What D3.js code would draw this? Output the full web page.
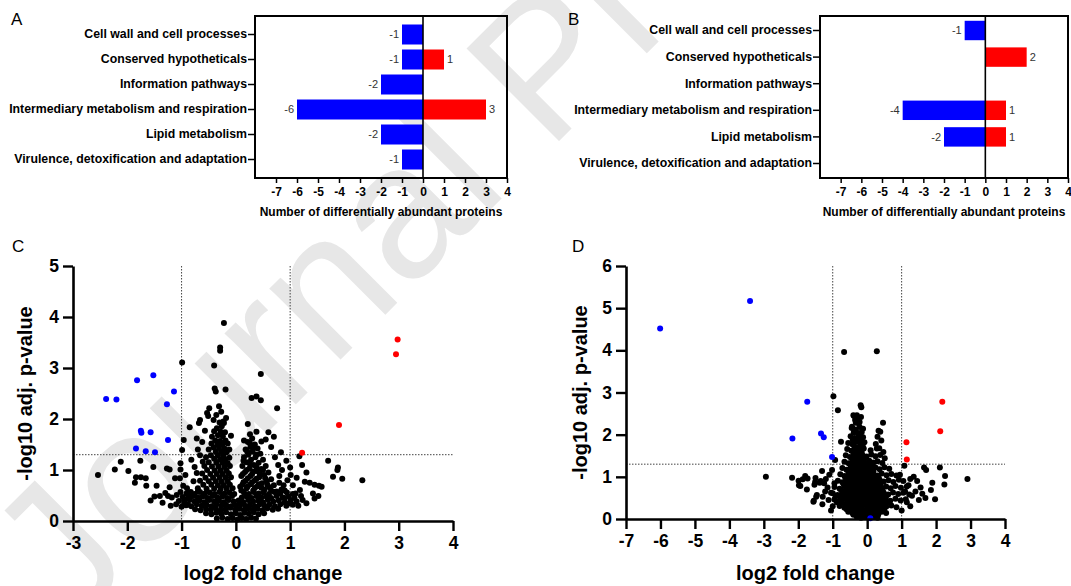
<!DOCTYPE html>
<html>
<head>
<meta charset="utf-8">
<script src="https://cdn.jsdelivr.net/npm/d3@7"></script>
<style>
  body { margin: 0; background: #fff; }
  svg { display: block; font-family: "Liberation Sans", Arial, sans-serif; }
</style>
</head>
<body>
<svg id="fig" width="1071" height="586"></svg>
<script>
// ---- data ----
var categories = [
  'Cell wall and cell processes',
  'Conserved hypotheticals',
  'Information pathways',
  'Intermediary metabolism and respiration',
  'Lipid metabolism',
  'Virulence, detoxification and adaptation'
];
var downA = [-1, -1, -2, -6, -2, -1];
var upA   = [0, 1, 0, 3, 0, 0];
var downB = [-1, 0, 0, -4, -2, 0];
var upB   = [0, 2, 0, 1, 1, 0];
var barTicks = [-7, -6, -5, -4, -3, -2, -1, 0, 1, 2, 3, 4];

var cTicksX = [-3, -2, -1, 0, 1, 2, 3, 4];
var cTicksY = [0, 1, 2, 3, 4, 5];
var dTicksX = [-7, -6, -5, -4, -3, -2, -1, 0, 1, 2, 3, 4];
var dTicksY = [0, 1, 2, 3, 4, 5, 6];
var foldCut = [-1, 1];
var pCut = 1.3;

// panel C: log2 fold change, -log10 adj. p
var cBlue = [[-2.39,2.39],[-2.20,2.38],[-1.82,2.76],[-1.52,2.86],[-1.14,2.54],[-1.27,2.29],
  [-1.75,1.77],[-1.74,1.73],[-1.57,1.74],[-1.25,1.59],[-1.84,1.42],[-1.66,1.37],[-1.49,1.35]];
var cRed = [[2.98,3.56],[2.95,3.27],[1.90,1.88],[1.22,1.34]];
var cBlack = [
  [-0.22,3.88],[-0.29,3.40],[-0.29,3.34],[-0.99,3.11],[-0.40,3.05],[0.46,2.88],
  [-0.39,2.60],[-0.37,2.54],[-0.19,2.58],[0.29,2.41],[0.38,2.44],[0.46,2.37],
  [0.76,2.21],[-0.31,2.25],[-0.49,2.21],[-0.53,2.12],[-0.51,2.06],[0.22,1.90],
  [-0.66,1.98],[-0.68,1.92],[-0.85,1.84],[0.60,1.74],[0.70,1.65],[0.47,1.56],
  [-0.96,1.59],[-0.99,1.39],[-0.23,1.95],[-0.09,1.67],[-0.57,1.77],[-0.61,1.16],[-0.66,1.29],
  [-0.36,2.08],[-0.27,2.14],[-0.41,1.98],[-0.18,2.02],
  [-2.54,0.90],[-2.23,1.01],[-2.12,1.16],[-1.98,0.98],[-1.84,0.86],[-1.86,0.75],
  [-1.76,1.18],[-1.75,0.86],[-1.66,0.84],[-1.65,0.69],[-1.52,1.06],[-1.46,0.69],
  [-1.40,0.49],[-1.50,0.48],[-1.57,0.40],[-1.27,1.03],[-1.22,1.01],[-1.12,0.84],
  [-1.22,0.66],[-1.25,0.49],[-1.18,0.46],[-1.09,0.51],[-1.02,1.01],[-1.02,1.13],
  [-1.03,0.84],[-0.97,0.69],[-1.02,0.57],[-0.90,0.64],[-0.83,0.57],[-0.91,0.54],
  [-0.76,1.06],[-0.72,0.94],[-1.35,0.36],[-1.10,0.33],[-0.95,0.42],[-0.85,0.45],
  [-1.00,0.28],[-0.88,0.32],[-0.78,0.78],[-0.80,0.50],[-0.70,0.58],[-0.75,0.38],
  [-1.20,0.30],[-1.30,0.55],[-0.93,0.90],[-0.82,1.20],[-0.70,1.40],[-0.62,1.55],[-0.72,1.62],
  // left lobe
  [-0.30,1.93],[-0.22,1.92],[-0.26,1.86],[-0.35,1.82],[-0.40,1.76],[-0.28,1.75],[-0.20,1.74],
  [-0.33,1.68],[-0.24,1.66],[-0.44,1.65],[-0.38,1.58],[-0.29,1.57],[-0.19,1.58],[-0.45,1.52],
  [-0.34,1.50],[-0.25,1.50],[-0.15,1.52],[-0.41,1.44],[-0.31,1.43],[-0.21,1.42],[-0.50,1.40],
  [-0.37,1.36],[-0.27,1.36],[-0.17,1.35],[-0.12,1.40],[-0.46,1.29],[-0.33,1.29],[-0.23,1.28],
  [-0.55,1.25],[-0.40,1.22],[-0.29,1.21],[-0.19,1.21],[-0.12,1.24],[-0.50,1.15],[-0.36,1.14],
  [-0.25,1.14],[-0.15,1.13],[-0.58,1.08],[-0.44,1.07],[-0.32,1.07],[-0.21,1.06],[-0.11,1.08],
  [-0.53,1.00],[-0.39,0.99],[-0.28,0.99],[-0.17,0.99],[-0.62,0.93],[-0.47,0.92],[-0.35,0.92],
  [-0.24,0.92],[-0.13,0.93],[-0.56,0.85],[-0.42,0.85],[-0.30,0.85],[-0.19,0.85],[-0.09,0.86],
  [-0.66,0.79],[-0.50,0.78],[-0.37,0.78],[-0.26,0.77],[-0.15,0.78],[-0.60,0.71],[-0.45,0.71],
  [-0.33,0.70],[-0.22,0.70],[-0.11,0.71],[-0.70,0.64],[-0.54,0.63],[-0.40,0.63],[-0.28,0.63],
  [-0.17,0.63],[-0.06,0.64],
  // base
  [-0.35,0.05],[-0.25,0.07],[-0.15,0.04],[-0.06,0.06],[0.03,0.03],[0.11,0.06],[0.19,0.04],[0.28,0.07],[0.37,0.05],
  [-0.55,0.15],[-0.45,0.13],[-0.36,0.16],[-0.27,0.14],[-0.18,0.17],[-0.09,0.13],[0.00,0.15],[0.08,0.12],
  [0.16,0.16],[0.24,0.14],[0.33,0.17],[0.42,0.13],[0.52,0.15],
  [-0.75,0.23],[-0.65,0.21],[-0.55,0.24],[-0.46,0.22],[-0.37,0.25],[-0.28,0.21],[-0.19,0.23],[-0.10,0.26],
  [-0.01,0.22],[0.07,0.24],[0.15,0.21],[0.23,0.25],[0.31,0.22],[0.40,0.24],[0.49,0.21],[0.58,0.25],[0.68,0.22],[0.78,0.24],
  [-0.92,0.31],[-0.82,0.29],[-0.72,0.33],[-0.63,0.30],[-0.54,0.32],[-0.45,0.29],[-0.36,0.33],[-0.27,0.30],
  [-0.18,0.32],[-0.09,0.29],[0.00,0.31],[0.09,0.33],[0.17,0.30],[0.26,0.32],[0.35,0.29],[0.44,0.33],
  [0.53,0.30],[0.62,0.32],[0.72,0.29],[0.82,0.33],[0.93,0.30],[1.05,0.32],
  [-1.05,0.39],[-0.95,0.37],[-0.85,0.41],[-0.76,0.38],[-0.67,0.40],[-0.58,0.37],[-0.49,0.41],[-0.40,0.38],
  [-0.31,0.40],[-0.22,0.37],[-0.13,0.41],[-0.04,0.38],[0.05,0.40],[0.14,0.37],[0.23,0.41],[0.32,0.38],
  [0.41,0.40],[0.50,0.37],[0.59,0.41],[0.69,0.38],[0.79,0.40],[0.90,0.37],[1.01,0.41],[1.12,0.38],
  [-0.98,0.47],[-0.88,0.45],[-0.79,0.49],[-0.70,0.46],[-0.61,0.48],[-0.52,0.45],[-0.43,0.49],[-0.34,0.46],
  [-0.25,0.48],[-0.16,0.45],[-0.07,0.49],[0.11,0.46],[0.20,0.48],[0.29,0.45],[0.38,0.49],[0.47,0.46],
  [0.56,0.48],[0.65,0.45],[0.75,0.49],[0.86,0.46],[0.97,0.48],[1.08,0.45],[1.20,0.49],
  [-0.86,0.55],[-0.76,0.53],[-0.66,0.57],[-0.57,0.54],[-0.48,0.56],[-0.39,0.53],[-0.30,0.57],[-0.21,0.54],
  [-0.12,0.56],[-0.03,0.53],[0.15,0.56],[0.24,0.53],[0.33,0.57],[0.42,0.54],[0.51,0.56],[0.61,0.53],
  [0.71,0.57],[0.82,0.54],[0.94,0.56],[1.05,0.53],
  // right lobe
  [0.30,1.62],[0.22,1.55],[0.35,1.50],[0.27,1.45],[0.18,1.40],[0.40,1.42],[0.31,1.36],[0.23,1.30],
  [0.45,1.32],[0.15,1.25],[0.36,1.25],[0.28,1.20],[0.50,1.20],[0.20,1.15],[0.42,1.14],[0.33,1.10],
  [0.12,1.08],[0.55,1.08],[0.25,1.03],[0.47,1.02],[0.38,0.98],[0.17,0.96],[0.60,0.95],[0.30,0.92],
  [0.52,0.90],[0.10,0.88],[0.43,0.86],[0.22,0.84],[0.65,0.82],[0.35,0.80],[0.57,0.78],[0.14,0.76],
  [0.48,0.74],[0.27,0.72],[0.70,0.70],[0.40,0.68],[0.08,0.67],[0.62,0.66],[0.20,0.64],[0.53,0.62],
  [0.32,0.60],[0.75,0.58],[0.26,1.70],[0.38,1.75],[0.15,1.58],
  [0.26,1.52],[0.33,1.44],[0.21,1.36],[0.38,1.30],[0.14,1.18],[0.26,1.12],[0.38,1.06],[0.50,1.00],
  [0.20,1.00],[0.32,0.97],[0.44,0.92],[0.13,0.92],[0.27,0.88],[0.38,0.83],[0.54,0.84],[0.18,0.79],
  [0.30,0.76],[0.42,0.72],[0.58,0.71],[0.12,0.71],[0.22,0.68],[0.35,0.65],[0.47,0.65],[0.65,0.60],
  [0.10,0.60],[0.84,0.62],[0.80,0.75],[0.90,0.45],
  // right scatter
  [1.17,1.27],[1.22,1.10],[0.93,1.18],[1.01,0.90],[1.30,0.95],[1.27,0.77],[1.36,0.75],[1.45,0.71],
  [1.53,0.69],[1.58,0.67],[1.42,0.54],[1.52,0.49],[1.45,0.44],[1.23,0.41],[1.18,0.61],[1.10,0.54],
  [1.70,1.18],[1.88,1.05],[1.87,1.00],[1.79,0.87],[1.96,0.83],[2.33,0.80],[0.85,1.00],[0.95,0.80],
  [0.88,0.70],[1.05,0.70],[1.12,0.85],[0.80,0.88],[0.78,1.10],[0.90,0.60],[1.00,1.05],[0.72,1.25],
  [0.83,1.35],[0.65,1.45],[0.55,1.60],[1.15,0.30],[1.30,0.35],[0.98,0.35]
];

// panel D
var dBlue = [[-6.01,4.52],[-3.40,5.17],[-1.74,2.78],[-2.17,1.91],[-1.34,2.03],[-1.26,1.94],[-1.02,1.47],[0.09,0.02]];
var dRed = [[2.18,2.78],[2.12,2.08],[1.14,1.82],[1.15,1.41]];
var dBlack = [
  [-0.67,3.96],[0.28,3.98],[-0.98,2.91],[-0.85,2.58],[-0.19,2.70],[-0.17,2.65],[-0.40,2.46],
  [-0.30,2.46],[-0.35,2.35],[-0.44,2.19],[-0.25,2.27],[0.46,2.28],[0.33,2.09],[0.38,2.07],
  [0.41,1.86],[0.28,1.67],[0.47,1.59],[0.51,1.44],[-0.76,1.83],[-0.93,1.40],[-1.02,1.16],[-1.31,1.14],
  // left scatter
  [-2.94,1.00],[-2.18,0.98],[-1.99,0.91],[-1.87,0.94],[-1.80,1.02],[-1.73,0.96],[-1.94,0.78],
  [-1.98,0.80],[-1.51,0.88],[-1.53,0.81],[-1.46,0.57],[-1.55,0.43],[-1.38,0.86],[-1.29,0.53],
  [-1.48,0.53],[-1.56,0.41],[-1.50,0.97],[-1.35,0.90],[-1.25,0.85],[-1.20,0.95],[-1.10,1.05],
  [-1.15,0.75],[-1.05,0.62],[-1.22,0.65],[-1.12,0.45],[-1.30,0.35],[-1.00,0.30],[-0.95,0.85],
  [-0.92,0.55],[-0.88,0.40],[-1.05,0.20],[-1.75,0.70],
  // right scatter
  [1.65,1.22],[1.71,1.16],[2.11,1.22],[2.26,1.02],[2.24,0.82],[2.91,0.95],[1.89,0.86],[1.85,0.69],
  [1.97,0.47],[1.69,0.50],[1.08,1.26],[1.35,1.00],[1.25,0.95],[1.45,0.90],[1.55,0.75],[1.20,0.80],
  [1.40,0.65],[1.30,0.55],[1.50,0.45],[1.15,0.40],[1.05,0.90],[1.10,0.65],[0.95,1.05],[1.60,0.60],
  [1.00,0.20],[1.25,0.30],
  // core
  [-0.38,2.44],[-0.28,2.38],[-0.18,2.42],[-0.33,2.28],[-0.22,2.30],
  [-0.45,2.16],[-0.33,2.12],[-0.22,2.18],[-0.12,2.14],[-0.39,2.05],[-0.27,2.04],[-0.16,2.06],
  [-0.48,1.96],[-0.36,1.92],[-0.24,1.98],[-0.12,1.94],[0.30,1.95],[-0.42,1.88],[-0.30,1.87],[-0.18,1.89],
  [-0.55,1.80],[-0.43,1.77],[-0.31,1.83],[-0.19,1.79],[-0.08,1.82],[0.25,1.78],[-0.37,1.72],[-0.25,1.71],[-0.13,1.73],
  [-0.58,1.66],[-0.46,1.62],[-0.34,1.68],[-0.22,1.64],[-0.10,1.67],[0.10,1.63],[0.35,1.68],
  [-0.40,1.58],[-0.28,1.57],[-0.16,1.59],
  [-0.62,1.51],[-0.50,1.47],[-0.38,1.53],[-0.26,1.49],[-0.14,1.52],[-0.02,1.48],[0.12,1.53],[0.24,1.49],[0.38,1.52],
  [-0.44,1.43],[-0.32,1.42],[-0.20,1.44],[-0.08,1.43],
  [-0.66,1.36],[-0.54,1.32],[-0.42,1.38],[-0.30,1.34],[-0.18,1.37],[-0.06,1.33],[0.06,1.38],[0.18,1.34],[0.30,1.37],[0.44,1.33],
  [-0.48,1.28],[-0.36,1.27],[-0.24,1.29],[-0.12,1.28],[0.00,1.27],[0.12,1.29],
  [-0.72,1.21],[-0.60,1.17],[-0.48,1.23],[-0.36,1.19],[-0.24,1.22],[-0.12,1.18],[0.00,1.23],[0.12,1.19],
  [0.24,1.22],[0.36,1.18],[0.50,1.23],[0.64,1.19],
  [-0.54,1.13],[-0.42,1.12],[-0.30,1.14],[-0.18,1.13],[-0.06,1.12],[0.06,1.14],[0.18,1.13],
  [-0.78,1.06],[-0.66,1.02],[-0.54,1.08],[-0.42,1.04],[-0.30,1.07],[-0.18,1.03],[-0.06,1.08],[0.06,1.04],
  [0.18,1.07],[0.30,1.03],[0.42,1.08],[0.56,1.04],[0.70,1.07],[0.85,1.03],
  [-0.63,0.98],[-0.51,0.97],[-0.39,0.99],[-0.27,0.98],[-0.15,0.97],[-0.03,0.99],[0.09,0.98],[0.21,0.97],[0.33,0.99],
  [-0.85,0.91],[-0.72,0.87],[-0.60,0.93],[-0.48,0.89],[-0.36,0.92],[-0.24,0.88],[-0.12,0.93],[0.00,0.89],
  [0.12,0.92],[0.24,0.88],[0.36,0.93],[0.48,0.89],[0.62,0.92],[0.76,0.88],[0.92,0.93],
  [-0.69,0.83],[-0.57,0.82],[-0.45,0.84],[-0.33,0.83],[-0.21,0.82],[-0.09,0.84],[0.03,0.83],[0.15,0.82],[0.27,0.84],[0.39,0.83],
  [-0.95,0.76],[-0.80,0.72],[-0.66,0.78],[-0.54,0.74],[-0.42,0.77],[-0.30,0.73],[-0.18,0.78],[-0.06,0.74],
  [0.06,0.77],[0.18,0.73],[0.30,0.78],[0.42,0.74],[0.55,0.77],[0.68,0.73],[0.82,0.78],[0.98,0.74],[1.15,0.77],
  [-0.75,0.68],[-0.63,0.67],[-0.51,0.69],[-0.39,0.68],[-0.27,0.67],[-0.15,0.69],[-0.03,0.68],[0.09,0.67],
  [0.21,0.69],[0.33,0.68],[0.45,0.67],
  [-1.00,0.61],[-0.86,0.57],[-0.72,0.63],[-0.60,0.59],[-0.48,0.62],[-0.36,0.58],[-0.24,0.63],[-0.12,0.59],
  [0.00,0.62],[0.12,0.58],[0.24,0.63],[0.36,0.59],[0.48,0.62],[0.61,0.58],[0.75,0.63],[0.90,0.59],[1.05,0.62],[1.22,0.58],
  [-0.80,0.53],[-0.66,0.52],[-0.54,0.54],[-0.42,0.53],[-0.30,0.52],[-0.18,0.54],[-0.06,0.53],[0.06,0.52],
  [0.18,0.54],[0.30,0.53],[0.42,0.52],[0.55,0.54],
  [-0.95,0.46],[-0.82,0.42],[-0.68,0.48],[-0.56,0.44],[-0.44,0.47],[-0.32,0.43],[-0.20,0.48],[-0.08,0.44],
  [0.04,0.47],[0.16,0.43],[0.28,0.48],[0.40,0.44],[0.53,0.47],[0.67,0.43],[0.82,0.48],[0.97,0.44],[1.12,0.47],
  [-0.74,0.38],[-0.61,0.37],[-0.49,0.39],[-0.37,0.38],[-0.25,0.37],[-0.13,0.39],[-0.01,0.38],[0.11,0.37],
  [0.23,0.39],[0.35,0.38],[0.48,0.37],[0.62,0.39],
  [-0.80,0.31],[-0.66,0.27],[-0.54,0.33],[-0.42,0.29],[-0.30,0.32],[-0.18,0.28],[-0.06,0.33],[0.06,0.29],
  [0.18,0.32],[0.30,0.28],[0.42,0.33],[0.55,0.29],[0.70,0.32],[0.85,0.28],
  [-0.60,0.23],[-0.48,0.22],[-0.36,0.24],[-0.24,0.23],[-0.12,0.22],[0.00,0.24],[0.12,0.23],[0.24,0.22],[0.36,0.24],[0.49,0.23],
  [-0.55,0.17],[-0.43,0.14],[-0.31,0.18],[-0.19,0.15],[-0.07,0.17],[0.05,0.14],[0.17,0.18],[0.29,0.15],[0.42,0.17],[0.55,0.14],
  [-0.40,0.10],[-0.28,0.09],[-0.16,0.11],[-0.04,0.10],[0.08,0.09],[0.20,0.11],[0.32,0.10],
  [-0.30,0.05],[-0.18,0.03],[-0.06,0.06],[0.06,0.04],[0.18,0.06],[0.30,0.03]
];

var svg = d3.select('#fig');

// ---- watermark ----
svg.append('text')
   .attr('transform', 'translate(70,630) rotate(-45)')
   .attr('fill', '#e7e7e7')
   .style('font-size', '190px')
   .text('Journal Pre-proof');

// ---- bar panels ----
function drawBars(cfg) {
  var x = d3.scaleLinear().domain([-8, 4]).range([cfg.left, cfg.right]);
  var y = d3.scaleBand().domain(categories).range([cfg.top, cfg.bottom])
            .paddingInner(cfg.padIn).paddingOuter(cfg.padOut);

  var g = svg.append('g');

  var rows = categories.map(function(c, i) {
    return { cat: c, down: cfg.down[i], up: cfg.up[i] };
  });

  // blue (less abundant) bars
  var downRows = rows.filter(function(r) { return r.down < 0; });
  g.selectAll('.down').data(downRows).enter().append('rect')
   .attr('x', function(r) { return x(r.down); })
   .attr('y', function(r) { return y(r.cat); })
   .attr('width', function(r) { return x(0) - x(r.down); })
   .attr('height', y.bandwidth())
   .attr('fill', '#0000ff');
  g.selectAll('.downlab').data(downRows).enter().append('text')
   .attr('x', function(r) { return x(r.down) - 3; })
   .attr('y', function(r) { return y(r.cat) + y.bandwidth() / 2; })
   .attr('dy', '0.35em')
   .attr('text-anchor', 'end')
   .attr('fill', '#333')
   .style('font-size', '11px')
   .text(function(r) { return String(r.down); });

  // red (more abundant) bars
  var upRows = rows.filter(function(r) { return r.up > 0; });
  g.selectAll('.up').data(upRows).enter().append('rect')
   .attr('x', x(0))
   .attr('y', function(r) { return y(r.cat); })
   .attr('width', function(r) { return x(r.up) - x(0); })
   .attr('height', y.bandwidth())
   .attr('fill', '#ff0000');
  g.selectAll('.uplab').data(upRows).enter().append('text')
   .attr('x', function(r) { return x(r.up) + 3; })
   .attr('y', function(r) { return y(r.cat) + y.bandwidth() / 2; })
   .attr('dy', '0.35em')
   .attr('fill', '#333')
   .style('font-size', '11px')
   .text(function(r) { return String(r.up); });

  // zero line and frame
  g.append('line').attr('x1', x(0)).attr('x2', x(0))
   .attr('y1', cfg.top).attr('y2', cfg.bottom)
   .attr('stroke', '#000').attr('stroke-width', 1.6);
  g.append('rect').attr('x', cfg.left).attr('y', cfg.top)
   .attr('width', cfg.right - cfg.left).attr('height', cfg.bottom - cfg.top)
   .attr('fill', 'none').attr('stroke', '#000').attr('stroke-width', 2);

  var yAxis = d3.axisLeft(y).tickSize(7).tickPadding(1).tickSizeOuter(0);
  var ya = g.append('g').attr('transform', 'translate(' + cfg.left + ',0)').call(yAxis);
  ya.select('.domain').remove();
  ya.selectAll('line').attr('stroke-width', 1.5);
  ya.selectAll('text').attr('fill', '#000').style('font-size', '12.3px').style('font-weight', 'bold');

  var xAxis = d3.axisBottom(x).tickValues(barTicks).tickFormat(String).tickSize(5).tickPadding(4);
  var xa = g.append('g').attr('transform', 'translate(0,' + cfg.bottom + ')').call(xAxis);
  xa.select('.domain').remove();
  xa.selectAll('line').attr('stroke-width', 1.5);
  xa.selectAll('text').attr('fill', '#000').style('font-size', '12px').style('font-weight', 'bold');

  g.append('text')
   .attr('x', (cfg.left + cfg.right) / 2).attr('y', cfg.bottom + 38)
   .attr('text-anchor', 'middle')
   .style('font-size', '12px').style('font-weight', 'bold')
   .text('Number of differentially abundant proteins');

  svg.append('text').attr('x', cfg.tagX).attr('y', 25)
     .style('font-size', '17px').text(cfg.tag);
}

drawBars({ tag: 'A', tagX: 11, left: 255, right: 507, top: 16, bottom: 178,
           padIn: 0.2, padOut: 0.34, down: downA, up: upA });
drawBars({ tag: 'B', tagX: 568, left: 820, right: 1068, top: 16, bottom: 178,
           padIn: 0.27, padOut: 0.18, down: downB, up: upB });

// ---- volcano panels ----
function drawVolcano(cfg) {
  var x = d3.scaleLinear().domain([cfg.ticksX[0], cfg.ticksX[cfg.ticksX.length - 1]])
            .range([cfg.left, cfg.right]);
  var y = d3.scaleLinear().domain([0, cfg.ticksY[cfg.ticksY.length - 1]])
            .range([cfg.bottom, cfg.top]);
  var g = svg.append('g');

  // threshold lines
  g.selectAll('.vcut').data(foldCut).enter().append('line')
   .attr('x1', x).attr('x2', x)
   .attr('y1', y.range()[1]).attr('y2', y(0))
   .attr('stroke', '#444').attr('stroke-width', 1).attr('stroke-dasharray', '1.5,1.5');
  g.append('line')
   .attr('x1', x.range()[0]).attr('x2', x.range()[1])
   .attr('y1', y(pCut)).attr('y2', y(pCut))
   .attr('stroke', '#444').attr('stroke-width', 1).attr('stroke-dasharray', '1.5,1.5');

  function dots(data, colour) {
    g.append('g').selectAll('circle').data(data).enter().append('circle')
     .attr('cx', function(d) { return x(d[0]); })
     .attr('cy', function(d) { return y(d[1]); })
     .attr('r', 3)
     .attr('fill', colour);
  }
  dots(cfg.black, '#000');
  dots(cfg.blue, '#0000ff');
  dots(cfg.red, '#ff0000');

  var xAxis = d3.axisBottom(x).tickValues(cfg.ticksX).tickFormat(String)
                .tickSize(10).tickPadding(6).tickSizeOuter(0);
  var xa = g.append('g').attr('transform', 'translate(0,' + cfg.bottom + ')').call(xAxis);
  var yAxis = d3.axisLeft(y).tickValues(cfg.ticksY).tickFormat(String)
                .tickSize(10).tickPadding(4).tickSizeOuter(0);
  var ya = g.append('g').attr('transform', 'translate(' + cfg.left + ',0)').call(yAxis);

  [xa, ya].forEach(function(a) {
    a.select('.domain').attr('stroke-width', 2.6);
    a.selectAll('line').attr('stroke-width', 2.4);
    a.selectAll('text').attr('fill', '#000')
     .style('font-size', '17.5px').style('font-weight', 'bold');
  });

  g.append('text')
   .attr('x', (cfg.left + cfg.right) / 2).attr('y', 580)
   .attr('text-anchor', 'middle')
   .style('font-size', '20px').style('font-weight', 'bold')
   .text('log2 fold change');
  g.append('text')
   .attr('transform', 'translate(' + cfg.titleX + ',' + ((cfg.top + cfg.bottom) / 2) + ') rotate(-90)')
   .attr('text-anchor', 'middle')
   .style('font-size', '20px').style('font-weight', 'bold')
   .text('-log10 adj. p-value');

  svg.append('text').attr('x', cfg.tagX).attr('y', 252)
     .style('font-size', '17px').text(cfg.tag);
}

drawVolcano({ tag: 'C', tagX: 12, left: 73, right: 453, top: 266, bottom: 521, titleX: 32,
              ticksX: cTicksX, ticksY: cTicksY, black: cBlack, blue: cBlue, red: cRed });
drawVolcano({ tag: 'D', tagX: 572, left: 626, right: 1005, top: 266, bottom: 519, titleX: 587,
              ticksX: dTicksX, ticksY: dTicksY, black: dBlack, blue: dBlue, red: dRed });
</script>
</body>
</html>
